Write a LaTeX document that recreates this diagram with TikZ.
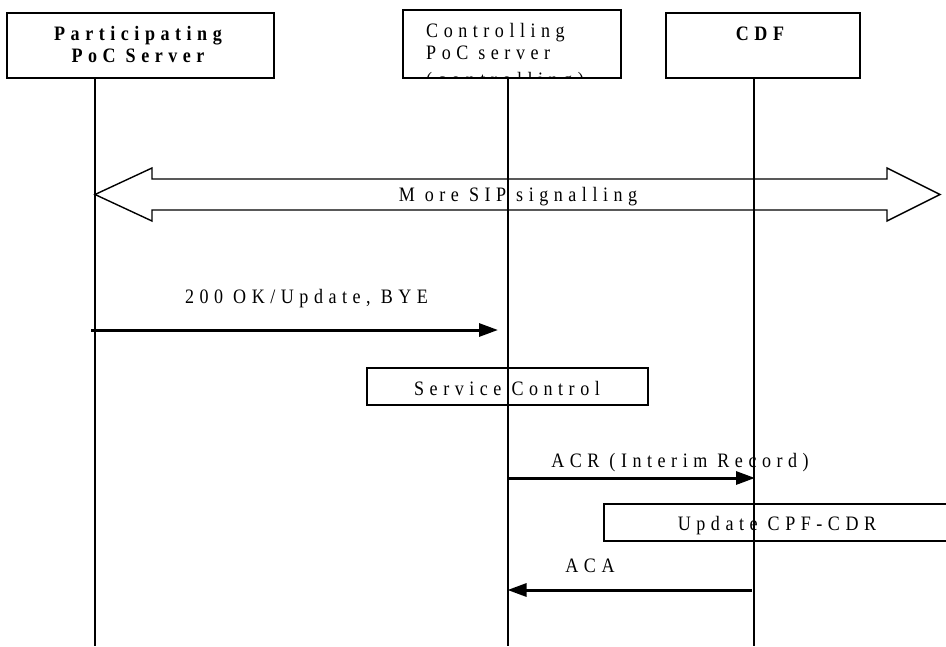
\documentclass[tikz,border=0pt]{standalone}
\usepackage{fontspec}
\setmainfont{Liberation Serif}[LetterSpace=27,FakeStretch=0.88]
\usetikzlibrary{arrows.meta}
\tikzset{
  head/.style={draw, line width=1.6pt, inner sep=0pt},
  life/.style={line width=2pt},
  msg/.style={line width=3pt, -{Triangle[length=19pt,width=13pt]}},
  lbl/.style={anchor=base, inner sep=0pt, font=\fontsize{20.5}{22}\selectfont},
  act/.style={draw, line width=1.6pt, inner sep=0pt},
}
\begin{document}
\begin{tikzpicture}[x=1pt,y=-1pt]
\useasboundingbox (0,0) rectangle (946,646);
% heads
\node[head, minimum width=267pt, minimum height=65pt] (pbox) at (140.5,45.5) {};
\node[lbl, font=\fontsize{20.5}{22}\selectfont\bfseries] (ptxt1) at (138,40) {Participating};
\node[lbl, font=\fontsize{20.5}{22}\selectfont\bfseries] (ptxt2) at (138,62) {PoC Server};
\node[head, minimum width=218pt, minimum height=68pt] (cbox) at (512,44) {};
\begin{scope}
\clip (403,10) rectangle (621,77);
\node[lbl, anchor=base west] (ctxt1) at (426,37) {Controlling};
\node[lbl, anchor=base west] (ctxt2) at (426,59) {PoC server};
\node[lbl, anchor=base west] (ctxt3) at (426,86) {(controlling)};
\end{scope}
\node[head, minimum width=194pt, minimum height=65pt] (dbox) at (763,45.5) {};
\node[lbl, font=\fontsize{20.5}{22}\selectfont\bfseries] (dtxt) at (760,40) {CDF};
% lifelines
\coordinate (pt) at (94.5,78); \coordinate (pb) at (94.5,646);
\coordinate (ct) at (507.5,78); \coordinate (cb) at (507.5,646);
\coordinate (dt) at (753.5,78); \coordinate (db) at (753.5,646);
\draw[life] (pt) -- (pb);
\draw[life] (ct) -- (cb);
\draw[life] (dt) -- (db);
% double arrow
\coordinate (dl) at (95,194.5); \coordinate (dr) at (940,194.5);
\draw[line width=1.4pt, line join=miter] (dl) -- (152,168) -- (152,179) -- (887,179) -- (887,168) -- (dr) -- (887,221) -- (887,210) -- (152,210) -- (152,221) -- cycle;
\node[lbl] (sip) at (518,201) {M ore SIP signalling};
% 200 OK
\coordinate (m1a) at (91,330); \coordinate (m1b) at (498,330);
\draw[msg] (m1a) -- (m1b);
\node[lbl] (m1l) at (306.5,303) {200 OK/Update, BYE};
% Service control
\node[act, minimum width=281pt, minimum height=37pt] (sc) at (507.5,386.5) {};
\node[lbl] (sctxt) at (507,395) {Service Control};
% ACR
\coordinate (m2a) at (507.5,478); \coordinate (m2b) at (755,478);
\draw[msg] (m2a) -- (m2b);
\node[lbl] (m2l) at (680,467) {ACR (Interim Record)};
% Update
\node[act, minimum width=346pt, minimum height=37pt] (up) at (777,522.5) {};
\node[lbl] (uptxt) at (777,530) {Update CPF-CDR};
% ACA
\coordinate (m3a) at (752,590); \coordinate (m3b) at (507.5,590);
\draw[msg] (m3a) -- (m3b);
\node[lbl] (m3l) at (590,572) {ACA};
\end{tikzpicture}
\end{document}
